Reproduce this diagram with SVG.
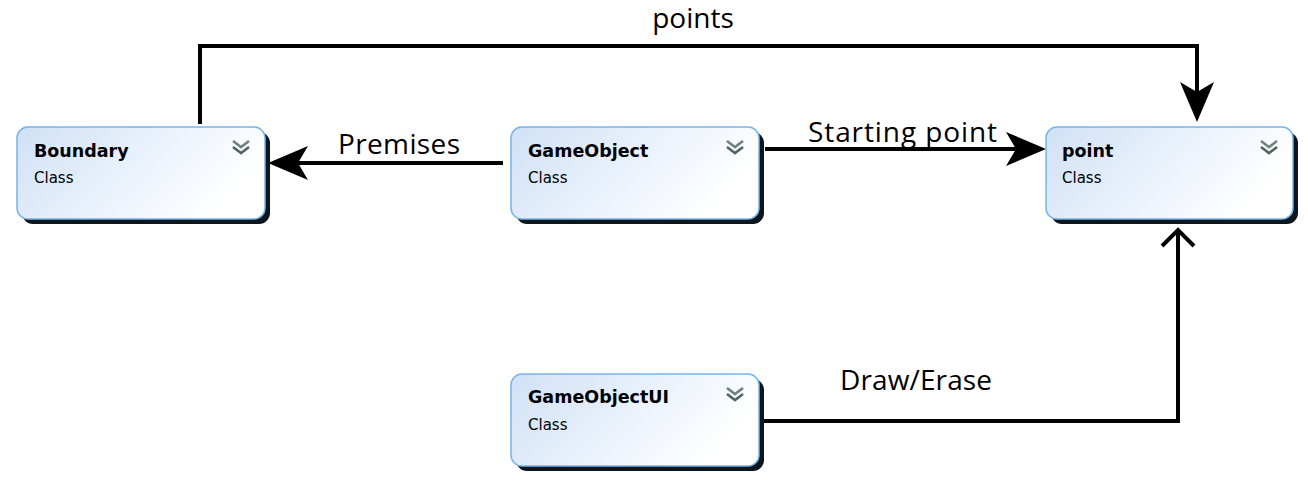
<svg xmlns="http://www.w3.org/2000/svg" width="1308" height="482" viewBox="0 0 1308 482">
<defs>
<linearGradient id="boxFill" x1="0" y1="0" x2="1" y2="0.35">
<stop offset="0" stop-color="#d0e1f6"/>
<stop offset="0.6" stop-color="#ecf3fc"/>
<stop offset="1" stop-color="#ffffff"/>
</linearGradient>
<filter id="shadowBlur" x="-5%" y="-5%" width="110%" height="110%">
<feGaussianBlur stdDeviation="0.7"/>
</filter>
<marker id="solidArrow" markerUnits="userSpaceOnUse" markerWidth="40" markerHeight="34" viewBox="0 0 40 34" refX="10" refY="17" orient="auto">
<path d="M40,17 L0,0 L10,17 L0,34 Z" fill="#000"/>
</marker>
<marker id="openArrow" markerUnits="userSpaceOnUse" markerWidth="30" markerHeight="40" viewBox="-22 -20 30 40" refX="0" refY="0" orient="auto">
<path d="M-16,-16 L0,0 L-16,16" fill="none" stroke="#000" stroke-width="4" stroke-linejoin="miter"/>
</marker>
<g id="chev">
<path d="M0,0 L8,6 L16,0" fill="none" stroke="#6f8378" stroke-width="2.6"/>
<path d="M0,6 L8,12 L16,6" fill="none" stroke="#4f6560" stroke-width="2.6"/>
</g>
</defs>
<style>
.shadow{fill:#0b121a;filter:url(#shadowBlur);}
.box{fill:url(#boxFill);stroke:#78b4ea;stroke-width:1.5;}
.name{font-family:"DejaVu Sans",sans-serif;font-weight:bold;font-size:17.5px;fill:#000;}
.kind{font-family:"DejaVu Sans",sans-serif;font-size:15px;fill:#000;}
.conn{fill:none;stroke:#000;stroke-width:4;}
.label{font-family:"Open Sans",sans-serif;font-size:28px;fill:#000;}
</style>
<rect width="1308" height="482" fill="#ffffff"/>

<g id="connectors">
<path class="conn" d="M200,124 V46 H1197 V92" marker-end="url(#solidArrow)"/>
<path class="conn" d="M503,163 H298" marker-end="url(#solidArrow)"/>
<path class="conn" d="M765,149 H1016" marker-end="url(#solidArrow)"/>
<path class="conn" d="M764,421 H1178 V230" marker-end="url(#openArrow)"/>
<text class="label" x="693" y="28" text-anchor="middle">points</text>
<text class="label" x="338" y="154" textLength="122">Premises</text>
<text class="label" x="808" y="142" textLength="189">Starting point</text>
<text class="label" x="840" y="390" textLength="152">Draw/Erase</text>
</g>

<g id="node-boundary">
<rect class="shadow" x="22" y="132" width="248" height="92" rx="11"/>
<rect class="box" x="17" y="127" width="248" height="92" rx="11"/>
<text class="name" x="34" y="157">Boundary</text>
<text class="kind" x="34" y="183">Class</text>
<use href="#chev" x="233" y="141"/>
</g>

<g id="node-gameobject">
<rect class="shadow" x="516" y="132" width="248" height="92" rx="11"/>
<rect class="box" x="511" y="127" width="248" height="92" rx="11"/>
<text class="name" x="528" y="157">GameObject</text>
<text class="kind" x="528" y="183">Class</text>
<use href="#chev" x="727" y="141"/>
</g>

<g id="node-point">
<rect class="shadow" x="1051" y="132" width="247" height="92" rx="11"/>
<rect class="box" x="1046" y="127" width="247" height="92" rx="11"/>
<text class="name" x="1062" y="157">point</text>
<text class="kind" x="1062" y="183">Class</text>
<use href="#chev" x="1261" y="141"/>
</g>

<g id="node-gameobjectui">
<rect class="shadow" x="516" y="379" width="248" height="92" rx="11"/>
<rect class="box" x="511" y="374" width="248" height="92" rx="11"/>
<text class="name" x="528" y="403">GameObjectUI</text>
<text class="kind" x="528" y="430">Class</text>
<use href="#chev" x="727" y="388"/>
</g>
</svg>
